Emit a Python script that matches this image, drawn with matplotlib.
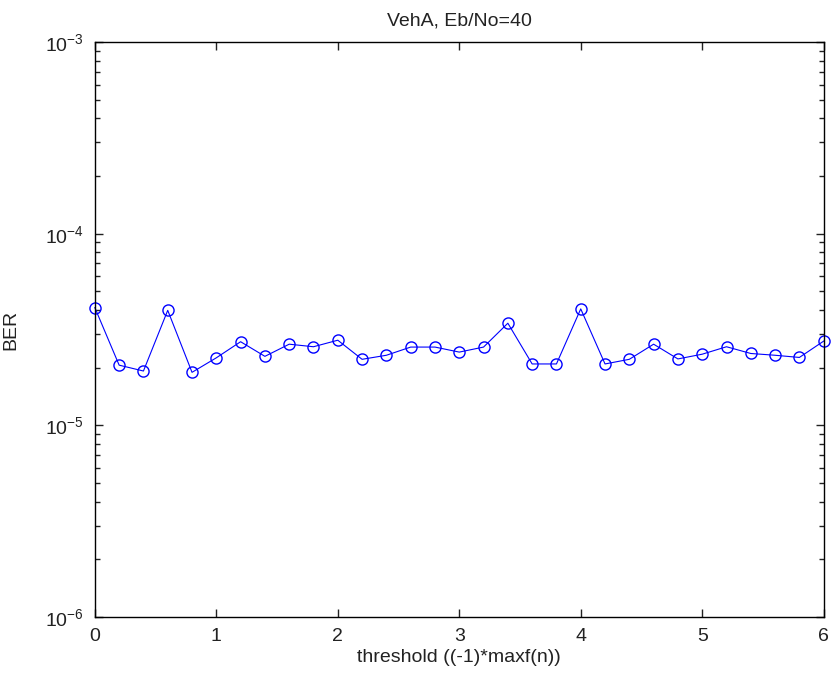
import numpy as np
import matplotlib.pyplot as plt
from matplotlib.ticker import LogLocator, NullFormatter

plt.rcParams['font.family'] = ['Liberation Sans', 'DejaVu Sans']
plt.rcParams['mathtext.fontset'] = 'custom'
plt.rcParams['mathtext.rm'] = 'Liberation Sans'
plt.rcParams['mathtext.default'] = 'regular'
plt.rcParams['axes.unicode_minus'] = False

threshold = np.arange(0, 6.01, 0.2)
ber = [4.11e-5, 2.06e-5, 1.92e-5, 3.98e-5, 1.89e-5, 2.25e-5, 2.73e-5, 2.29e-5,
       2.65e-5, 2.57e-5, 2.78e-5, 2.21e-5, 2.32e-5, 2.56e-5, 2.56e-5, 2.41e-5,
       2.56e-5, 3.41e-5, 2.09e-5, 2.09e-5, 4.05e-5, 2.09e-5, 2.21e-5, 2.65e-5,
       2.22e-5, 2.35e-5, 2.57e-5, 2.37e-5, 2.32e-5, 2.26e-5, 2.75e-5]

fig = plt.figure(figsize=(8.32, 6.84), dpi=100)
ax = fig.add_axes([0.114, 0.098, 0.876, 0.8406])

ax.semilogy(threshold, ber, '-o', color='blue', linewidth=0.8, clip_on=False,
            markersize=8, markerfacecolor='none', markeredgewidth=1.0)

ax.set_xlim(0, 6)
ax.set_ylim(1e-6, 1e-3)
ax.yaxis.set_major_locator(LogLocator(base=10, numticks=10))
ax.yaxis.set_minor_locator(LogLocator(base=10, subs=np.arange(2, 10), numticks=10))
ax.yaxis.set_minor_formatter(NullFormatter())

ax.tick_params(which='both', direction='in', top=True, right=True,
               labelsize=14, colors='#222222')
ax.tick_params(which='major', length=6, width=1, pad=8)
ax.tick_params(which='minor', length=3.5, width=1)
for s in ax.spines.values():
    s.set_linewidth(1.0)

ax.set_title('VehA, Eb/No=40', fontsize=14, color='#222222', pad=12)
ax.set_xlabel('threshold ((-1)*maxf(n))', fontsize=14, color='#222222', labelpad=3)
ax.set_ylabel('BER', fontsize=14, color='#222222', labelpad=18)

fig.savefig('out.png', dpi=100)
